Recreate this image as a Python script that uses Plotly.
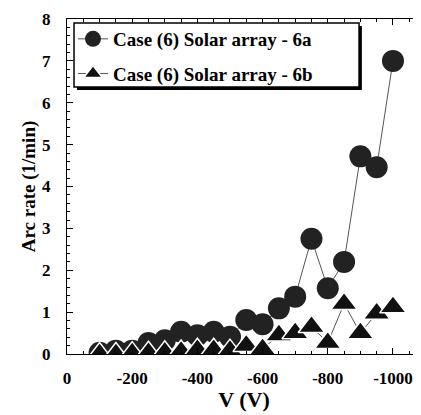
import plotly.graph_objects as go

voltage = [-100, -150, -200, -250, -300, -350, -400, -450, -500, -550,
           -600, -650, -700, -750, -800, -850, -900, -950, -1000]
rate_6a = [0.03, 0.08, 0.08, 0.26, 0.33, 0.53, 0.45, 0.53, 0.41, 0.81,
           0.71, 1.09, 1.37, 2.75, 1.57, 2.2, 4.72, 4.46, 7.0]
rate_6b = [0.0, 0.0, 0.02, 0.03, 0.04, 0.06, 0.1, 0.1, 0.08, 0.2,
           0.12, 0.45, 0.5, 0.65, 0.27, 1.2, 0.5, 0.97, 1.12]
name_6a = "Case (6) Solar array - 6a"
name_6b = "Case (6) Solar array - 6b"
x_ticks = [0, -200, -400, -600, -800, -1000]
y_ticks = [0, 1, 2, 3, 4, 5, 6, 7, 8]

FONT = "Liberation Serif"


def b(s):
    return "<b>" + str(s) + "</b>"


fig = go.Figure()
fig.add_trace(go.Scatter(
    x=voltage, y=rate_6a, name=b(name_6a), mode="lines+markers", legendgroup="a",
    line=dict(color="#555555", width=1),
    marker=dict(symbol="circle", size=22, color="#222222", line=dict(width=0)),
))
fig.add_trace(go.Scatter(
    x=voltage, y=rate_6b, name=b(name_6b), mode="lines+markers", legendgroup="b",
    line=dict(color="#555555", width=1),
    marker=dict(symbol="triangle-up", size=23, color="#111111",
                line=dict(width=1.5, color="white")),
))

# legend box shadow and frame
fig.add_shape(type="rect", xref="paper", yref="paper",
              x0=0.0282, x1=0.833, y0=0.788, y1=0.979,
              fillcolor="black", line=dict(width=0), layer="above")
fig.add_shape(type="rect", xref="paper", yref="paper",
              x0=0.0198, x1=0.825, y0=0.797, y1=0.988,
              fillcolor="white", line=dict(width=1.5, color="black"), layer="above")

fig.update_layout(
    width=413, height=407,
    margin=dict(l=59, r=0, t=11, b=61, autoexpand=False),
    paper_bgcolor="white", plot_bgcolor="white",
    font=dict(family=FONT, color="black"),
    showlegend=True,
    legend=dict(
        x=0.017, y=0.997, xanchor="left", yanchor="top",
        bgcolor="rgba(0,0,0,0)", borderwidth=0,
        font=dict(family=FONT, size=19, color="black"),
        itemwidth=30, tracegroupgap=7,
    ),
    xaxis=dict(
        range=[0, -1086], tickvals=x_ticks, automargin=False,
        ticktext=[b(v) for v in x_ticks],
        showgrid=False, zeroline=False,
        showline=True, linecolor="black", linewidth=1.2, mirror="allticks",
        ticks="inside", ticklen=6, tickcolor="black", tickwidth=1,
        minor=dict(dtick=50, ticks="inside", ticklen=3, tickcolor="black"),
        tickfont=dict(family=FONT, size=17, color="black"),
        ticklabelstandoff=8,
        title=dict(text=b("V (V)"), standoff=5,
                   font=dict(family=FONT, size=22, color="black")),
    ),
    yaxis=dict(
        range=[0, 8], tickvals=y_ticks, automargin=False,
        ticktext=[b(v) for v in y_ticks],
        showgrid=False, zeroline=False,
        showline=True, linecolor="black", linewidth=1.2, mirror=False,
        ticks="inside", ticklen=6, tickcolor="black", tickwidth=1,
        minor=dict(dtick=0.2, ticks="inside", ticklen=3, tickcolor="black"),
        tickfont=dict(family=FONT, size=17, color="black"),
        ticklabelstandoff=12,
        title=dict(text=b("Arc rate (1/min)"), standoff=1,
                   font=dict(family=FONT, size=19, color="black")),
    ),
)

fig.write_html("out.html")
